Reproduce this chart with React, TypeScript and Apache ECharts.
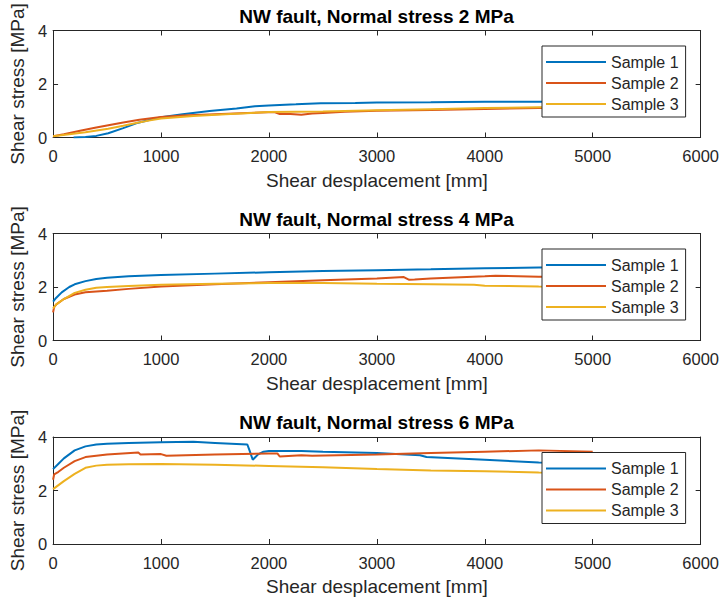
import React, { useEffect, useRef } from "react";
import * as echarts from "echarts";

const panelTitles = [
  "NW fault, Normal stress 2 MPa",
  "NW fault, Normal stress 4 MPa",
  "NW fault, Normal stress 6 MPa",
];
const sampleNames = ["Sample 1", "Sample 2", "Sample 3"];
const sampleColors = ["#0072BD", "#D95319", "#EDB120"];
const xTicks = [0, 1000, 2000, 3000, 4000, 5000, 6000];
const yTicks = [0, 2, 4];

// Panel 1: normal stress 2 MPa
const p1s1X = [190, 300, 400, 511, 650, 770, 900, 1000, 1200, 1450, 1700, 1870, 2000, 2250, 2480, 2800, 3000, 3500, 4000, 4500, 5000];
const p1s1Y = [0.0, 0.02, 0.06, 0.16, 0.35, 0.53, 0.66, 0.76, 0.87, 0.99, 1.08, 1.17, 1.2, 1.24, 1.28, 1.29, 1.31, 1.32, 1.34, 1.34, 1.35];
const p1s2X = [0, 100, 250, 400, 500, 650, 800, 1000, 1200, 1500, 1800, 2050, 2100, 2200, 2300, 2400, 2500, 2700, 3000, 3500, 4000, 4500, 5000];
const p1s2Y = [0.05, 0.12, 0.25, 0.37, 0.45, 0.56, 0.66, 0.77, 0.82, 0.87, 0.92, 0.95, 0.88, 0.88, 0.85, 0.9, 0.92, 0.96, 1.0, 1.03, 1.07, 1.1, 1.12];
const p1s3X = [0, 150, 300, 511, 650, 770, 900, 1000, 1300, 1600, 2000, 2500, 3000, 3500, 4000, 4500, 5000];
const p1s3Y = [0.05, 0.12, 0.2, 0.33, 0.44, 0.54, 0.64, 0.71, 0.8, 0.87, 0.95, 0.97, 1.02, 1.06, 1.1, 1.13, 1.15];

// Panel 2: normal stress 4 MPa
const p2s1X = [0, 30, 80, 150, 200, 300, 400, 500, 700, 1000, 1500, 2000, 2500, 3000, 3500, 4000, 4500, 5000];
const p2s1Y = [1.45, 1.6, 1.8, 2.0, 2.1, 2.22, 2.3, 2.35, 2.4, 2.45, 2.5, 2.55, 2.6, 2.63, 2.66, 2.7, 2.73, 2.75];
const p2s2X = [0, 10, 30, 100, 200, 300, 500, 700, 1000, 1500, 2000, 2500, 3000, 3250, 3300, 3350, 3500, 4000, 4100, 4500, 5000];
const p2s2Y = [1.05, 1.25, 1.35, 1.55, 1.72, 1.8, 1.86, 1.93, 2.02, 2.1, 2.18, 2.25, 2.32, 2.37, 2.27, 2.28, 2.32, 2.4, 2.42, 2.38, 2.38];
const p2s3X = [0, 30, 100, 200, 300, 400, 500, 700, 1000, 1500, 2000, 2500, 3000, 3500, 3900, 4000, 4500, 5000];
const p2s3Y = [1.2, 1.35, 1.55, 1.78, 1.9, 1.97, 2.0, 2.04, 2.08, 2.12, 2.15, 2.15, 2.12, 2.1, 2.08, 2.05, 2.02, 2.0];

// Panel 3: normal stress 6 MPa
const p3s1X = [0, 50, 100, 200, 300, 400, 500, 700, 1000, 1300, 1500, 1800, 1820, 1850, 1900, 1950, 2000, 2300, 2500, 3000, 3400, 3460, 4000, 4500, 5000];
const p3s1Y = [2.8, 3.0, 3.2, 3.5, 3.65, 3.72, 3.75, 3.78, 3.8, 3.82, 3.78, 3.72, 3.5, 3.15, 3.35, 3.45, 3.48, 3.48, 3.45, 3.4, 3.32, 3.25, 3.15, 3.05, 3.02];
const p3s2X = [0, 10, 50, 100, 200, 300, 500, 790, 810, 1000, 1050, 1500, 2000, 2080, 2100, 2300, 2400, 3000, 3500, 4000, 4500, 5000];
const p3s2Y = [2.4, 2.6, 2.7, 2.85, 3.1, 3.25, 3.35, 3.42, 3.35, 3.36, 3.3, 3.35, 3.38, 3.38, 3.27, 3.32, 3.3, 3.35, 3.4, 3.45, 3.5, 3.45];
const p3s3X = [0, 100, 200, 300, 400, 500, 700, 1000, 1500, 2000, 2500, 3000, 3500, 4000, 4500, 5000];
const p3s3Y = [2.05, 2.35, 2.62, 2.85, 2.93, 2.96, 2.98, 2.99, 2.96, 2.92, 2.87, 2.8, 2.75, 2.72, 2.67, 2.65];

const panels = [
  [[p1s1X, p1s1Y], [p1s2X, p1s2Y], [p1s3X, p1s3Y]],
  [[p2s1X, p2s1Y], [p2s2X, p2s2Y], [p2s3X, p2s3Y]],
  [[p3s1X, p3s1Y], [p3s2X, p3s2Y], [p3s3X, p3s3Y]],
];

const FONT = "'Liberation Sans', Arial, Helvetica, sans-serif";
const INK = "#262626";
const plotTops = [30.5, 233.5, 437];
const PLOT_LEFT = 51;
const PLOT_W = 651;
const PLOT_H = 107;

function buildOption() {
  const grid: any[] = [];
  const xAxis: any[] = [];
  const yAxis: any[] = [];
  const title: any[] = [];
  const legend: any[] = [];
  const series: any[] = [];

  plotTops.forEach((top, i) => {
    grid.push({ left: PLOT_LEFT, top, width: PLOT_W, height: PLOT_H, containLabel: false });
    const xCommon = {
      type: "value",
      gridIndex: i,
      min: xTicks[0],
      max: xTicks[xTicks.length - 1],
      interval: xTicks[1] - xTicks[0],
      splitLine: { show: false },
      axisLine: { show: true, onZero: false, lineStyle: { color: INK, width: 1 } },
      axisTick: { show: true, inside: true, length: 5, lineStyle: { color: INK } },
    };
    xAxis.push({
      ...xCommon,
      position: "bottom",
      name: "Shear desplacement [mm]",
      nameLocation: "middle",
      nameGap: 33,
      nameTextStyle: { fontFamily: FONT, fontSize: 19, color: INK },
      axisLabel: {
        show: true,
        margin: 10,
        fontFamily: FONT,
        fontSize: 16.5,
        color: INK,
        formatter: (v: number) => String(v),
      },
    });
    xAxis.push({ ...xCommon, position: "top", axisLabel: { show: false } });
    const yCommon = {
      type: "value",
      gridIndex: i,
      min: yTicks[0],
      max: yTicks[yTicks.length - 1],
      interval: yTicks[1] - yTicks[0],
      splitLine: { show: false },
      axisLine: { show: true, onZero: false, lineStyle: { color: INK, width: 1 } },
      axisTick: { show: true, inside: true, length: 5, lineStyle: { color: INK } },
    };
    yAxis.push({
      ...yCommon,
      position: "left",
      name: "Shear stress [MPa]",
      nameLocation: "middle",
      nameGap: 19,
      nameTextStyle: { fontFamily: FONT, fontSize: 19, color: INK },
      axisLabel: { show: true, margin: 6, fontFamily: FONT, fontSize: 16.5, color: INK },
    });
    yAxis.push({ ...yCommon, position: "right", axisLabel: { show: false } });

    title.push({
      text: panelTitles[i],
      left: PLOT_LEFT + PLOT_W / 2,
      top: top - 24,
      textAlign: "center",
      padding: 0,
      textStyle: { fontFamily: FONT, fontSize: 19, fontWeight: "bold", color: "#000" },
    });

    legend.push({
      orient: "vertical",
      left: 542,
      top: top + 15.5,
      padding: [7, 7, 4, 4],
      itemGap: 3,
      itemWidth: 60,
      itemHeight: 2,
      icon: "rect",
      selectedMode: false,
      backgroundColor: "#ffffff",
      borderColor: INK,
      borderWidth: 1,
      borderRadius: 0,
      data: sampleNames,
      textStyle: { fontFamily: FONT, fontSize: 16, lineHeight: 18, color: INK },
    });

    panels[i].forEach(([xs, ys], k) => {
      series.push({
        type: "line",
        name: sampleNames[k],
        xAxisIndex: i * 2,
        yAxisIndex: i * 2,
        showSymbol: false,
        symbol: "none",
        silent: true,
        color: sampleColors[k],
        lineStyle: { color: sampleColors[k], width: 2 },
        data: xs.map((x, j) => [x, ys[j]]),
      });
    });
  });

  return { animation: false, backgroundColor: "#ffffff", grid, xAxis, yAxis, title, legend, series };
}

export default function App() {
  const ref = useRef<HTMLDivElement>(null);
  useEffect(() => {
    if (!ref.current) return;
    const chart = echarts.init(ref.current, null, { renderer: "svg" });
    chart.setOption(buildOption() as any);
    return () => chart.dispose();
  }, []);
  return (
    <div
      ref={ref}
      style={{ position: "fixed", left: 0, top: 0, width: 722, height: 599, background: "#fff" }}
    />
  );
}
